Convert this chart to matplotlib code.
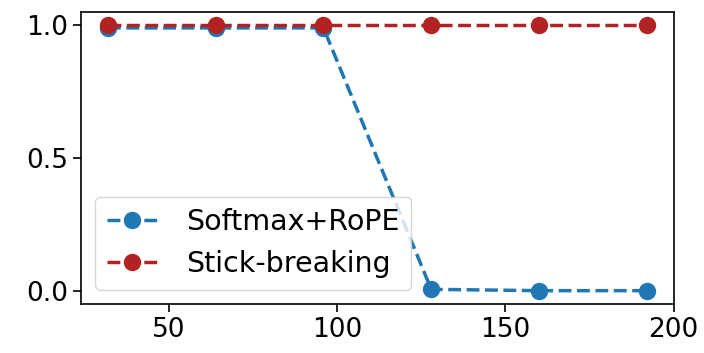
import matplotlib
matplotlib.use("Agg")
import matplotlib.pyplot as plt

x_vals = [32, 64, 96, 128, 160, 192]
softmax_rope = [0.99, 0.99, 0.99, 0.005, 0.0, 0.0]
stick_breaking = [1.0, 1.0, 1.0, 1.0, 1.0, 1.0]

fig = plt.figure(figsize=(7.04, 3.53), dpi=100)
ax = fig.add_axes([0.115, 0.139, 0.842, 0.827])
ax.plot(x_vals, softmax_rope, linestyle='--', marker='o', color='#1f77b4',
        linewidth=2.5, markersize=11.5, label='Softmax+RoPE')
ax.plot(x_vals, stick_breaking, linestyle='--', marker='o', color='#b22222',
        linewidth=2.5, markersize=11.5, label='Stick-breaking')
ax.set_xticks([50, 100, 150, 200])
ax.set_yticks([0.0, 0.5, 1.0])
ax.tick_params(labelsize=19, length=6, width=1.2)
for s in ax.spines.values():
    s.set_linewidth(1.2)
ax.legend(loc='lower left', fontsize=20.5, handletextpad=1.0, borderaxespad=0.5,
          handlelength=1.8)
fig.savefig('out.png', dpi=100)
